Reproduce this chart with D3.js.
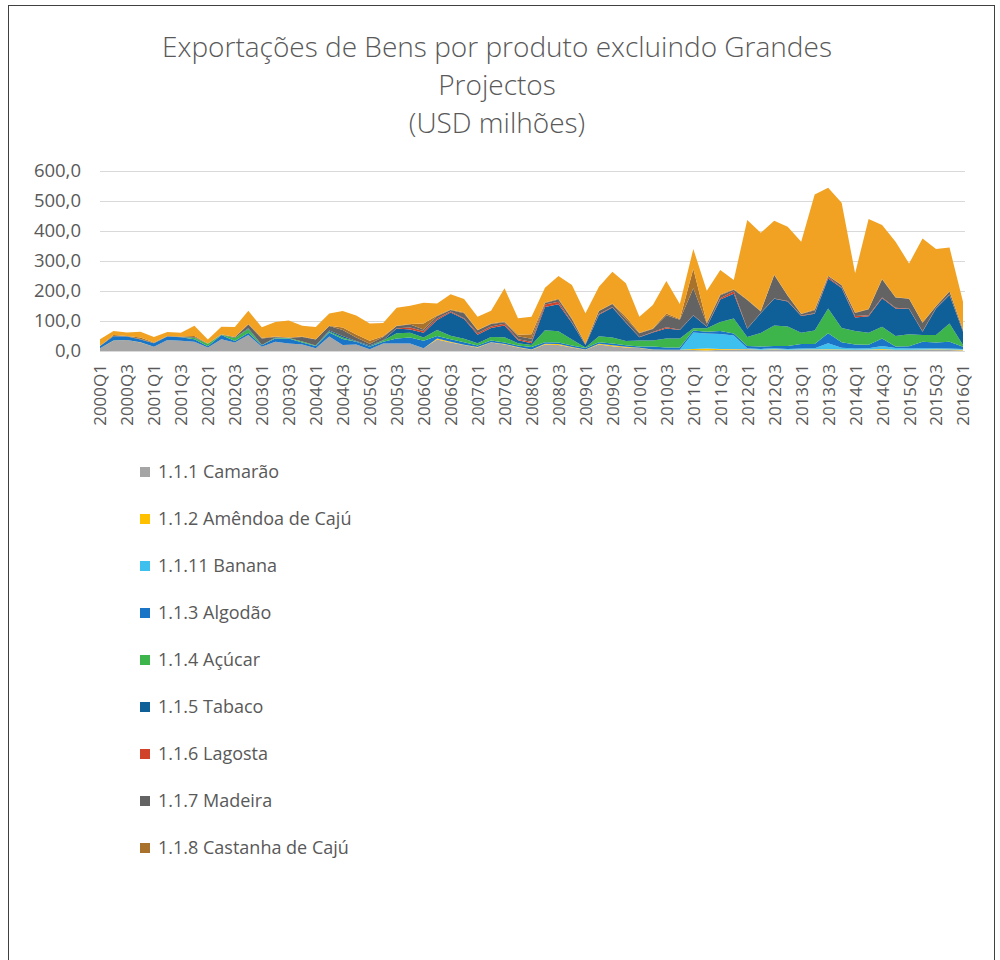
<!DOCTYPE html>
<html>
  <head>
    <meta charset="utf-8">
    <title>Exportações de Bens por produto</title>
    <script src="https://cdn.jsdelivr.net/npm/d3@7"></script>
    <style>
      body { margin: 0; background: #fff; }
      svg { display: block; font-family: "Open Sans", sans-serif; }
      .grid line { stroke: #d9d9d9; stroke-width: 1; }
      .label { fill: #595959; }
    </style>
  </head>

  <body>
    <svg id="chart" width="1000" height="960"></svg>

    <script>
      // data
      quarters = [];
      for (y = 2000; y <= 2016; y++) {
        for (q = 1; q <= 4; q++) {
          if (y == 2016 && q > 1) break;
          quarters.push(y + "Q" + q);
        }
      }

      yTicks = [0, 100, 200, 300, 400, 500, 600];

      camarao = [9,34,37,28,14,37,34,31,12,39, 28,53,14,31,25,22,9,48,20,22, 6,25,25,25,9,38,28,20,12,28, 22,12,4,22,20,12,4,22,16,12, 10,4,3,3,3,2,4,5,6,3, 4,3,4,5,4,3,3,4,4,3, 3,4,4,3,2];
      amendoa = [0,1,0,1,0,0,0,0,0,0, 0,0,0,0,0,0,0,0,0,0, 0,0,0,0,0,4,3,1,1,1, 1,1,1,2,3,1,1,2,3,2, 1,1,1,1,4,6,3,2,1,1, 2,1,1,1,2,2,1,1,3,1, 1,1,2,2,2];
      banana = [0,0,0,0,0,0,0,0,0,0, 0,0,0,0,0,0,0,0,0,0, 0,0,0,0,0,0,0,0,0,0, 0,0,0,0,0,0,0,0,0,0, 0,0,0,0,55,50,50,45,2,3, 3,3,3,3,20,6,4,4,10,6, 4,4,3,3,3];
      algodao = [8,14,11,9,12,11,12,8,4,14, 5,8,5,11,17,6,8,14,20,9, 8,6,17,20,25,8,8,8,5,6, 5,5,8,5,5,5,5,5,6,5, 4,10,8,8,6,6,10,6,8,8, 8,10,15,14,33,18,14,12,25,5, 8,22,19,23,7];
      acucar = [0,0,0,0,0,0,0,5,8,1, 10,12,1,1,1,4,1,3,5,1, 1,4,17,16,11,20,12,12,8,12, 18,8,7,40,38,20,2,20,20,14, 20,20,30,30,8,12,30,50,30,45, 68,65,38,45,83,48,45,40,39,35, 40,22,25,61,6];
      tabaco = [0,0,0,0,0,0,0,0,0,0, 0,3,0,2,0,0,0,3,5,1, 3,1,16,11,16,33,77,66,28,30, 39,10,6,78,90,55,8,72,100,61, 11,27,33,28,42,5,75,83,27,66, 89,83,56,56,100,133,45,55,95,92, 84,11,89,95,44];
      lagosta = [0,0,0,0,0,0,0,0,0,0, 0,0,0,0,0,0,0,0,0,0, 0,0,1,6,6,5,4,2,5,5, 6,3,5,8,8,2,1,2,2,2, 1,1,4,1,1,1,4,8,1,1, 1,2,1,2,5,2,5,3,2,2, 1,2,1,1,1];
      madeira = [0,1,1,2,1,1,1,3,0,1, 3,12,22,2,1,15,20,15,20,12, 6,11,7,10,5,8,5,17,10,8, 5,10,10,5,8,11,2,10,10,10, 12,10,40,33,90,10,10,5,95,5, 78,17,5,10,3,7,10,20,61,34, 33,28,6,10,5];
      castanha = [0,3,1,5,1,1,1,3,1,1, 1,2,2,1,1,1,1,1,8,10, 10,2,1,2,20,2,1,2,1,2, 2,5,15,2,2,2,1,1,1,8, 2,2,6,3,65,2,2,2,2,1, 2,1,1,2,1,1,1,1,2,1, 1,1,1,1,1];
      outros = [22,14,12,19,19,13,13,34,13,25, 33,44,35,49,57,36,41,41,55,63, 58,44,60,61,69,40,51,45,44,42, 111,55,58,49,76,112,102,80,106,112, 53,78,108,50,66,107,82,31,265,261, 179,229,240,384,293,274,131,300,179,185, 117,280,190,146,93];

      series = [
        { key: "1.1.1 Camarão", values: camarao, colour: "#a5a5a5", legend: true },
        { key: "1.1.2 Amêndoa de Cajú", values: amendoa, colour: "#ffc000", legend: true },
        { key: "1.1.11 Banana", values: banana, colour: "#3ec0ee", legend: true },
        { key: "1.1.3 Algodão", values: algodao, colour: "#1a75c6", legend: true },
        { key: "1.1.4 Açúcar", values: acucar, colour: "#3db54a", legend: true },
        { key: "1.1.5 Tabaco", values: tabaco, colour: "#0f5f98", legend: true },
        { key: "1.1.6 Lagosta", values: lagosta, colour: "#d0432a", legend: true },
        { key: "1.1.7 Madeira", values: madeira, colour: "#636363", legend: true },
        { key: "1.1.8 Castanha de Cajú", values: castanha, colour: "#a8722c", legend: true },
        { key: "Outros", values: outros, colour: "#f1a222", legend: false }
      ];

      // table for the stack
      table = quarters.map(function(d, i) {
        row = { quarter: d };
        series.forEach(function(s) { row[s.key] = s.values[i]; });
        return row;
      });

      svg = d3.select("#chart");

      // frame
      svg.append("rect")
        .attr("x", 8.5)
        .attr("y", 5.5)
        .attr("width", 986)
        .attr("height", 970)
        .attr("fill", "none")
        .attr("stroke", "#404040")
        .attr("stroke-width", 1);

      // title
      title = svg.append("text")
        .attr("class", "label")
        .attr("text-anchor", "middle")
        .style("font-size", "28px")
        .style("font-weight", 300);
      ["Exportações de Bens por produto excluindo Grandes", "Projectos", "(USD milhões)"]
        .forEach(function(t, i) {
          title.append("tspan")
            .attr("x", 497)
            .attr("y", 57 + i * 38)
            .text(t);
        });

      // scales
      x = d3.scaleLinear()
        .domain([0, quarters.length - 1])
        .range([100, 963]);

      y = d3.scaleLinear()
        .domain([0, 600])
        .range([351, 171]);

      // grid
      svg.append("g")
        .attr("class", "grid")
        .selectAll("line")
          .data(yTicks)
        .enter().append("line")
          .attr("x1", 100)
          .attr("x2", 965)
          .attr("y1", function(d) { return Math.round(y(d)) + 0.5; })
          .attr("y2", function(d) { return Math.round(y(d)) + 0.5; });

      yAxis = d3.axisLeft(y)
        .tickValues(yTicks)
        .tickSize(0)
        .tickPadding(0)
        .tickFormat(function(d) { return d3.format(".1f")(d).replace(".", ","); });

      svg.append("g")
        .attr("transform", "translate(81, 0)")
        .call(yAxis)
        .call(function(g) { g.select(".domain").remove(); })
        .selectAll("text")
          .attr("class", "label")
          .style("font-size", "18.5px")
          .style("font-family", "Open Sans");

      // areas
      stack = d3.stack()
        .keys(series.map(function(s) { return s.key; }));

      layers = stack(table);

      area = d3.area()
        .x(function(d, i) { return x(i); })
        .y0(function(d) { return y(d[0]); })
        .y1(function(d) { return y(d[1]); });

      svg.append("g")
        .selectAll("path")
          .data(layers)
        .enter().append("path")
          .attr("fill", function(d, i) { return series[i].colour; })
          .attr("d", area);

      // x labels, every second quarter
      xAxis = d3.axisBottom(x)
        .tickValues(d3.range(0, quarters.length, 2))
        .tickSize(0)
        .tickPadding(0)
        .tickFormat(function(d) { return quarters[d]; });

      svg.append("g")
        .attr("transform", "translate(0, 364)")
        .call(xAxis)
        .call(function(g) { g.select(".domain").remove(); })
        .selectAll("text")
          .attr("class", "label")
          .style("font-size", "17px")
          .style("font-family", "Open Sans")
          .attr("text-anchor", "end")
          .attr("dy", "0.35em")
          .attr("transform", "rotate(-90)")
          .attr("x", 0)
          .attr("y", 0);

      svg.selectAll(".tick text").attr("fill", "#595959");

      // legend
      legend = svg.append("g")
        .selectAll("g")
          .data(series.filter(function(s) { return s.legend; }))
        .enter().append("g")
          .attr("transform", function(d, i) { return "translate(140, " + (472 + i * 47) + ")"; });
      legend.append("rect")
        .attr("x", 0)
        .attr("y", -5)
        .attr("width", 10)
        .attr("height", 10)
        .attr("fill", function(d) { return d.colour; });
      legend.append("text")
        .attr("class", "label")
        .attr("x", 18)
        .attr("dy", "0.35em")
        .style("font-size", "18px")
        .text(function(d) { return d.key; });
    </script>
  </body>
</html>
